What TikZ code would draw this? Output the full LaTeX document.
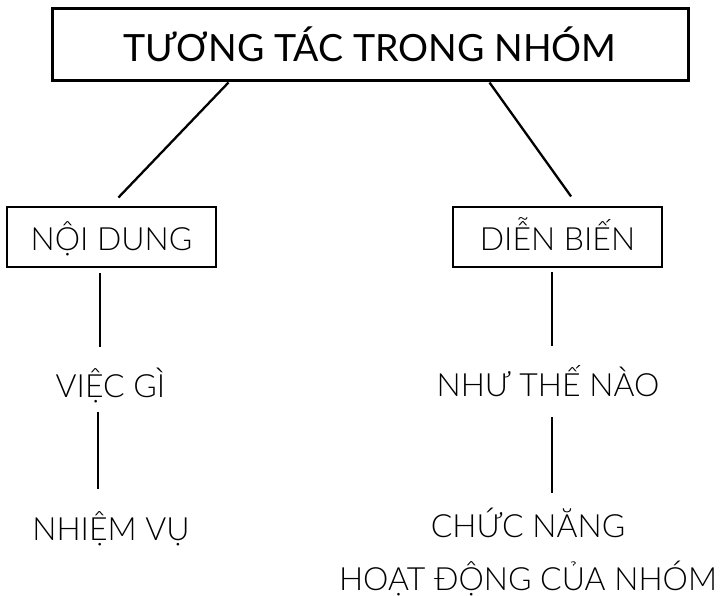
\documentclass[tikz,border=0pt]{standalone}
\usepackage{fontspec}
\setmainfont{Lato}
\newfontfamily\lightfont{Lato Light}
\usetikzlibrary{calc}
\begin{document}
\begin{tikzpicture}[x=1pt,y=-1pt,
  titlebox/.style={draw,line width=3pt,minimum width=636pt,minimum height=72pt,inner sep=0pt,
    font=\fontsize{37.5}{40}\selectfont,text height=34pt,text depth=0pt},
  subbox/.style={draw,line width=2.7pt,minimum width=209pt,minimum height=60pt,inner sep=0pt,
    font=\lightfont\fontsize{32}{36}\selectfont,text height=26pt,text depth=0pt},
  lbl/.style={inner sep=0pt,anchor=base,font=\lightfont\fontsize{32}{36}\selectfont,
    text height=23pt,text depth=0pt},
  conn/.style={line width=2.3pt}]
\useasboundingbox (0,0) rectangle (722,596);
\node[titlebox] (title) at (370,45) {TƯƠNG TÁC TRONG NHÓM};
\node[subbox] (noidung) at (111.5,237) {NỘI DUNG};
\node[subbox] (dienbien) at (557.5,237) {DIỄN BIẾN};
\node[lbl] (viecgi) at (110.5,397) {VIỆC GÌ};
\node[lbl] (nhiemvu) at (111,540) {NHIỆM VỤ};
\node[lbl] (nhuthenao) at (548,396) {NHƯ THẾ NÀO};
\node[lbl] (chucnang) at (528,537) {CHỨC NĂNG};
\node[lbl] (hoatdong) at (528,590) {HOẠT ĐỘNG CỦA NHÓM};
\coordinate (xa) at (100,0);
\coordinate (xb) at (98,0);
\coordinate (xc) at (552,0);
% connectors
\draw[conn,shorten >=11.3pt] ($(title.south west)+(178,0)$) -- ($(noidung.north west)+(105,0)$);
\draw[conn,shorten >=11.3pt] ($(title.south west)+(439,0)$) -- ($(dienbien.north west)+(126,0)$);
\draw[conn,shorten <=5pt,shorten >=27pt] (noidung.south -| xa) -- (viecgi.north -| xa);
\draw[conn,shorten <=15pt,shorten >=28pt] (viecgi.south -| xb) -- (nhiemvu.north -| xb);
\draw[conn,shorten <=4pt,shorten >=27pt] (dienbien.south -| xc) -- (nhuthenao.north -| xc);
\draw[conn,shorten <=21pt,shorten >=21pt] (nhuthenao.south -| xc) -- (chucnang.north -| xc);
\end{tikzpicture}
\end{document}
